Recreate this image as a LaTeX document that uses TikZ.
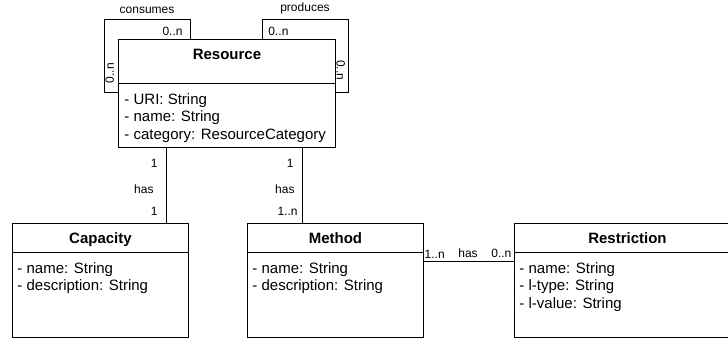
\documentclass[tikz,border=0pt]{standalone}
\usepackage{fontspec}
\setmainfont{Liberation Sans}
\usetikzlibrary{positioning}

\begin{document}
\begin{tikzpicture}[x=1pt,y=-1pt,line width=0.9pt,
		classbox/.style={draw,fill=white,inner sep=0pt,anchor=north west},
		classname/.style={inner sep=0pt,text height=11pt,text depth=3pt,font=\fontsize{15}{18}\selectfont\bfseries},
		attrlist/.style={inner sep=0pt,anchor=north west,align=left,font=\fontsize{15}{17.5}\selectfont},
		lbl/.style={inner sep=1pt,font=\fontsize{12}{14}\selectfont}]
		\clip (0,0) rectangle (728,338);
		% self loops of Resource
		\coordinate (rnw) at (118,39);
		\coordinate (rne) at (335,39);
		\draw ([xshift=72pt]rnw) node[lbl,anchor=south east,xshift=-6pt,yshift=2pt] {0..n}
			|- ([xshift=-14pt,yshift=20pt]rnw) node[lbl,pos=0.75,above=4pt] {consumes}
			|- ([yshift=-53pt]rnw) node[lbl,pos=0.37,rotate=90,anchor=north] {0..n};
		\draw ([xshift=144pt]rnw) node[lbl,anchor=south west,xshift=5pt,yshift=2pt] {0..n}
			|- ([xshift=13pt,yshift=20pt]rne) node[lbl,pos=0.75,above=4pt] {produces}
			|- ([yshift=-53pt]rne) node[lbl,pos=0.35,rotate=-90,anchor=north,inner sep=2.5pt] {0..n};
		% classes
		\node[classbox,minimum width=217pt,minimum height=108pt] (resource) at (rnw) {};
		\node[classname,below=9.5pt of resource.north] (resourcename) {Resource};
		\draw ([yshift=-44pt]resource.north west) -- ([yshift=-44pt]resource.north east);
		\node[attrlist] (resourceattr) at ([xshift=6pt,yshift=-54pt]resource.north west) {- URI: String\\- name: String\\- category: ResourceCategory};

		\node[classbox,minimum width=176pt,minimum height=114pt] (capacity) at (12,223) {};
		\node[classname,below=9pt of capacity.north] (capacityname) {Capacity};
		\draw ([yshift=-29pt]capacity.north west) -- ([yshift=-29pt]capacity.north east);
		\node[attrlist] (capacityattr) at ([xshift=5pt,yshift=-39pt]capacity.north west) {- name: String\\- description: String};

		\node[classbox,minimum width=176pt,minimum height=114pt] (method) at (247,223) {};
		\node[classname,below=9pt of method.north] (methodname) {Method};
		\draw ([yshift=-29pt]method.north west) -- ([yshift=-29pt]method.north east);
		\node[attrlist] (methodattr) at ([xshift=5pt,yshift=-39pt]method.north west) {- name: String\\- description: String};

		\node[classbox,minimum width=226pt,minimum height=114pt] (restriction) at (514,223) {};
		\node[classname,below=9pt of restriction.north] (restrictionname) {Restriction};
		\draw ([yshift=-29pt]restriction.north west) -- ([yshift=-29pt]restriction.north east);
		\node[attrlist] (restrictionattr) at ([xshift=5pt,yshift=-39pt]restriction.north west) {- name: String\\- l-type: String\\- l-value: String};

		% associations
		\coordinate (rc) at ([xshift=48pt]resource.south west);
		\coordinate (rm) at ([xshift=184pt]resource.south west);
		\coordinate (mr) at ([yshift=-38pt]method.north east);
		\draw (rc) -- (rc |- capacity.north)
			node[lbl,pos=0.2,left=7pt] {1}
			node[lbl,pos=0.55,left=11pt] {has}
			node[lbl,pos=0.84,left=7pt] {1};
		\draw (rm) -- (rm |- method.north)
			node[lbl,pos=0.2,left=7pt] {1}
			node[lbl,pos=0.55,left=6pt] {has}
			node[lbl,pos=0.84,left=3pt] {1..n};
		\draw (mr) -- (mr -| restriction.west)
			node[lbl,pos=0.12,above=1.5pt] {1..n}
			node[lbl,pos=0.49,above=1.5pt] {has}
			node[lbl,pos=0.86,above=1.5pt] {0..n};
	\end{tikzpicture}
\end{document}
